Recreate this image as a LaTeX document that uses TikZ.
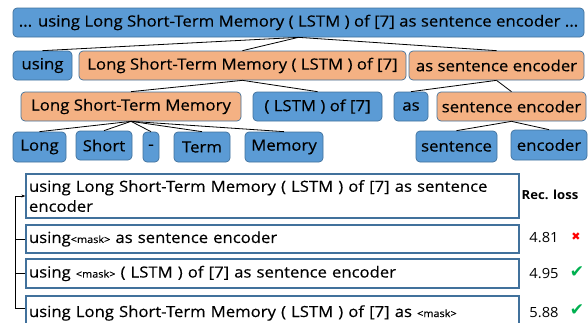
\documentclass[tikz,border=0pt]{standalone}
\usepackage{fontspec}
\setmainfont{Open Sans}[FakeStretch=1.09,FakeBold=0.35]
\newfontfamily\lossfont{Open Sans}[FakeStretch=1.05]
\newfontfamily\symfont{DejaVu Sans}
\usetikzlibrary{arrows.meta}
\definecolor{bfill}{HTML}{5B9BD5}
\definecolor{ofill}{HTML}{F4B183}
\definecolor{bord}{HTML}{41719C}
\definecolor{okgreen}{HTML}{00B050}
\definecolor{badred}{HTML}{FF0000}
\newcommand{\msk}{{\fontsize{10}{12}\selectfont <mask>}}
\begin{document}
\begin{tikzpicture}[x=1pt,y=-1pt,
  tok/.style={draw=bord, line width=0.7pt, rounded corners=4pt, inner sep=0pt,
     font=\fontsize{15.4}{18}\selectfont, text=black},
  bluebox/.style={tok, fill=bfill},
  orbox/.style={tok, fill=ofill},
  edge/.style={draw=black, line width=0.8pt},
  sent/.style={draw=bord, line width=1.3pt, fill=white, inner sep=0pt,
     minimum width=493pt, font=\fontsize{15.3}{20}\selectfont},
  loss/.style={font=\lossfont\fontsize{14}{16}\selectfont},
  bracket/.style={draw=black, line width=0.6pt}
]
\useasboundingbox (0,0) rectangle (588,322);
\begin{scope}
\clip (0,0) rectangle (588,322);
% row 1
\node[bluebox, minimum width=571pt, minimum height=29pt] (top) at (298.5,22.5)
  {... using Long Short-Term Memory ( LSTM ) of [7] as sentence encoder ...};
% row 2
\node[bluebox, minimum width=59pt, minimum height=29pt] (using) at (42.5,65.5) {using};
\node[orbox, minimum width=327pt, minimum height=29pt] (lstm) at (242.5,65.5) {Long Short-Term Memory ( LSTM ) of [7]};
\node[orbox, minimum width=175pt, minimum height=29pt] (ase) at (496.5,65.5) {as sentence encoder};
% row 3
\node[orbox, minimum width=220pt, minimum height=29pt] (lstmm) at (131,106.5) {Long Short-Term Memory};
\node[bluebox, minimum width=129pt, minimum height=29pt] (lstmof) at (317.5,106.5) {( LSTM ) of [7]};
\node[bluebox, minimum width=34pt, minimum height=29pt] (as) at (411,106.5) {as};
\node[orbox, minimum width=149pt, minimum height=29pt] (se) at (511.5,106.5) {sentence encoder};
% row 4
\node[bluebox, minimum width=53pt, minimum height=30pt] (long) at (39.5,147) {Long};
\node[bluebox, minimum width=56pt, minimum height=29pt] (short) at (104,145.5) {Short};
\node[bluebox, minimum width=16pt, minimum height=30pt] (dash) at (151,147) {-};
\node[bluebox, minimum width=56pt, minimum height=30pt] (term) at (202,147) {Term};
\node[bluebox, minimum width=78pt, minimum height=30pt] (memory) at (284,147) {Memory};
\node[bluebox, minimum width=81pt, minimum height=31pt] (sentence) at (456.5,146.5) {sentence};
\node[bluebox, minimum width=76pt, minimum height=30pt] (encoder) at (549,145) {encoder};
% tree edges
\foreach \c in {using,lstm,ase} \draw[edge] (top.south) -- (\c.north);
\foreach \c in {lstmm,lstmof} \draw[edge] (lstm.south) -- (\c.north);
\foreach \c in {as,se} \draw[edge] (ase.south) -- (\c.north);
\foreach \c in {long,short,dash,term,memory} \draw[edge] (lstmm.south) -- (\c.north);
\foreach \c in {sentence,encoder} \draw[edge] (se.south) -- (\c.north);
% sentences
\node[sent, minimum height=44pt, text width=487pt, align=left] (sa) at (272.5,196)
  {using Long Short-Term Memory ( LSTM ) of [7] as sentence\\encoder};
\node[sent, minimum height=28pt, text width=487pt, align=left] (sb) at (272.5,239)
  {using\msk{} as sentence encoder};
\node[sent, minimum height=29pt, text width=487pt, align=left] (sc) at (272.5,273.5)
  {using \msk{} ( LSTM ) of [7] as sentence encoder};
\node[sent, minimum height=34pt, text width=487pt, align=left] (sd) at (272.5,313)
  {using Long Short-Term Memory ( LSTM ) of [7] as \msk};
% bracket
\coordinate (bk) at (15,308);
\draw[bracket, -{Stealth[length=4pt,width=3pt]}] (bk) |- (sa.west);
\draw[bracket] (bk) -- (bk -| sd.west);
\draw[bracket] (sb.west) -- (sb.west -| bk);
\draw[bracket] (sc.west) -- (sc.west -| bk);
% losses
\node[font=\lossfont\fontsize{12.5}{14}\selectfont\bfseries] (rec) at (550,195) {Rec. loss};
\node[loss] (l1) at (544,238) {4.81};
\node[loss] (l2) at (544,274) {4.95};
\node[loss] (l3) at (544,313) {5.88};
\node[text=badred, font=\symfont\fontsize{11}{12}\selectfont] (m1) at (576,237) {✖};
\node[text=okgreen, font=\symfont\fontsize{17}{17}\selectfont] (m2) at (577,272) {✔};
\node[text=okgreen, font=\symfont\fontsize{17}{17}\selectfont] (m3) at (577,310) {✔};
\end{scope}
\end{tikzpicture}
\end{document}
